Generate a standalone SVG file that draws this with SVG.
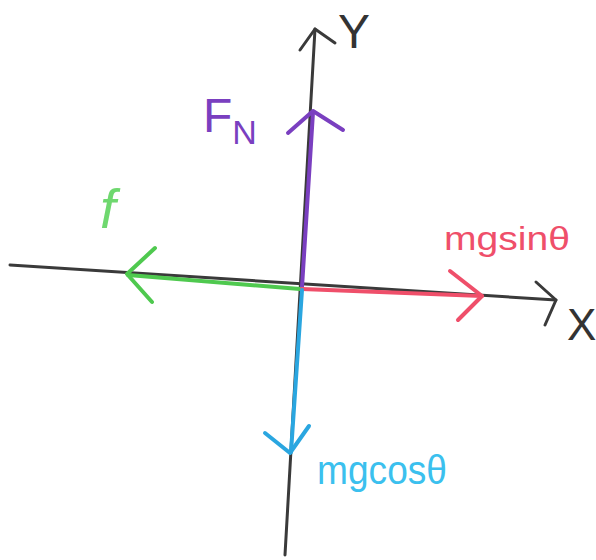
<svg xmlns="http://www.w3.org/2000/svg" width="596" height="560" viewBox="0 0 596 560">
<style>
.ax{fill:none;stroke:#3a3a3a;stroke-width:3;stroke-linecap:round;stroke-linejoin:round}
.v{fill:none;stroke-width:4;stroke-linecap:round;stroke-linejoin:round}
.t{font-family:"Liberation Sans",Arial,sans-serif}
</style>
<rect width="596" height="560" fill="#fff"/>
<g id="connectors">
  <g id="x-axis">
    <path class="ax" d="M10,265 L556,300"/>
    <path class="ax" d="M536,282 L556,300 L545,325"/>
  </g>
  <g id="y-axis">
    <path class="ax" d="M285,555 L315,29"/>
    <path class="ax" d="M300,50 L315,29 L335,43"/>
  </g>
  <g id="normal-force">
    <path class="v" stroke="#7a3fc0" d="M302,287 L313,112"/>
    <path class="v" stroke="#7a3fc0" d="M288,133 L313,111 L343,130"/>
  </g>
  <g id="friction">
    <path class="v" stroke="#4fc94f" d="M300,289 L128,275"/>
    <path class="v" stroke="#4fc94f" d="M155,248 L127,274 L152,302"/>
  </g>
  <g id="mgsin">
    <path class="v" stroke="#ef4f6a" d="M302,289 L482,296"/>
    <path class="v" stroke="#ef4f6a" d="M450,271 L482,296 L458,320"/>
  </g>
  <g id="mgcos">
    <path class="v" stroke="#2aa6e0" d="M302,290 L291,452"/>
    <path class="v" stroke="#2aa6e0" d="M265,433 L290,453 L309,426"/>
  </g>
</g>
<g id="label-Y"><text class="t" x="338" y="48" font-size="48" fill="#333">Y</text></g>
<g id="label-X"><text class="t" x="567" y="340" font-size="44" fill="#333">X</text></g>
<g id="label-FN"><text class="t" x="203" y="132" font-size="48" fill="#7a3fc0">F<tspan font-size="34" dy="12">N</tspan></text></g>
<g id="label-f"><text class="t" x="100" y="228" font-size="56" font-style="italic" fill="#6fd86f">f</text></g>
<g id="label-mgsin"><text class="t" x="444" y="250" font-size="34" fill="#ef4f6a" textLength="126" lengthAdjust="spacingAndGlyphs">mgsinθ</text></g>
<g id="label-mgcos"><text class="t" x="317" y="484" font-size="40" fill="#3bc0ee" textLength="130" lengthAdjust="spacingAndGlyphs">mgcosθ</text></g>
</svg>
